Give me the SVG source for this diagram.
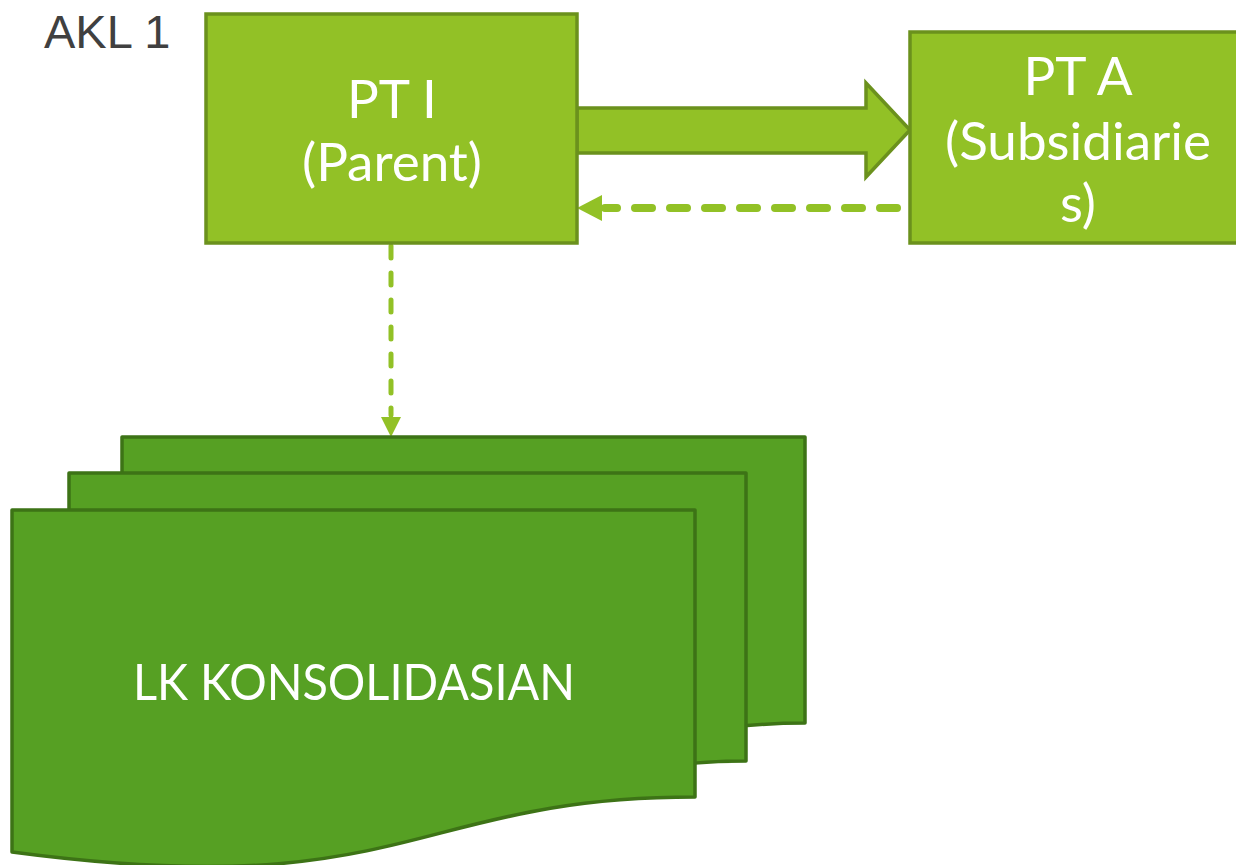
<svg xmlns="http://www.w3.org/2000/svg" width="1236" height="865" viewBox="0 0 1236 865">
<style>
.box{fill:#92c126;stroke:#6b911d;stroke-width:3.5}
.doc{fill:#56a023;stroke:#3d7316;stroke-width:3.5;stroke-linejoin:round}
.lbl{font-family:Lato,"Open Sans",sans-serif;fill:#ffffff;text-anchor:middle;font-size:53px}
.dash{fill:none;stroke:#92c126;stroke-linecap:round}
.head{fill:#92c126}
</style>
<rect width="1236" height="865" fill="#ffffff"/>
<text x="44" y="48" font-family="Liberation Sans, Arial, sans-serif" font-size="47" fill="#404040">AKL 1</text>

<g id="connectors">
  <path id="block-arrow" d="M577,108 L866,108 L866,83 L910,130 L866,177 L866,153 L577,153 Z" fill="#92c126" stroke="#6b911d" stroke-width="3.5" stroke-linejoin="miter"/>
  <line class="dash" x1="897" y1="208" x2="605" y2="208" stroke-width="8" stroke-dasharray="17 18"/>
  <path class="head" d="M577,208 L602,195 L602,221 Z"/>
  <line class="dash" x1="391" y1="246" x2="391" y2="415" stroke-width="5" stroke-dasharray="12 15"/>
  <path class="head" d="M381,417 L401,417 L391,437 Z"/>
</g>

<g id="node-pt-i">
  <rect class="box" x="206" y="14" width="371" height="229"/>
  <text class="lbl" x="392" y="118">PT I</text>
  <text class="lbl" x="392" y="181">(Parent)</text>
</g>

<g id="node-pt-a">
  <rect class="box" x="910" y="32" width="340" height="211"/>
  <text class="lbl" x="1078" y="95">PT A</text>
  <text class="lbl" x="1078" y="160">(Subsidiarie</text>
  <text class="lbl" x="1078" y="222">s)</text>
</g>

<g id="node-lk-konsolidasian">
  <path class="doc" d="M122,437 L805,437 L805,723 C580,723 580,831 122,778 Z"/>
  <path class="doc" d="M69,473 L746,473 L746,761 C520,761 520,869 69,815 Z"/>
  <path class="doc" d="M12,510 L695,510 L695,797 C410,797 410,905 12,852 Z"/>
  <text class="lbl" x="354" y="700" style="font-size:50px" textLength="442" lengthAdjust="spacingAndGlyphs">LK KONSOLIDASIAN</text>
</g>
</svg>
